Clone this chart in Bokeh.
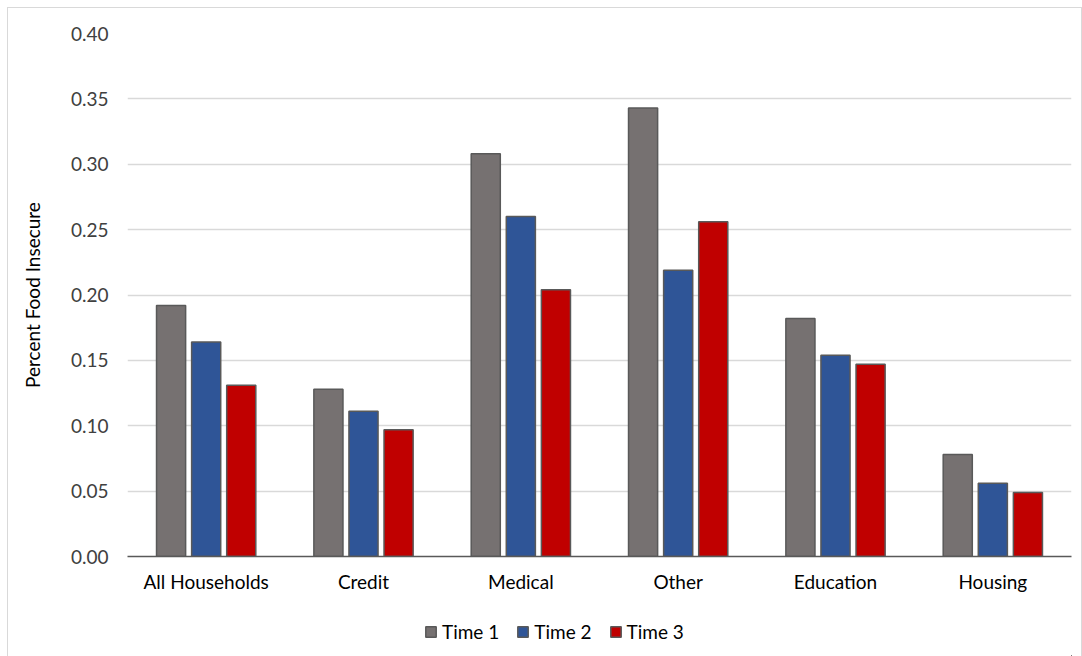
from bokeh.plotting import figure
from bokeh.layouts import column
from bokeh.models import ColumnDataSource, FactorRange, Legend, LegendItem, NumeralTickFormatter, FixedTicker
from bokeh.transform import dodge
from bokeh.embed import file_html
from bokeh.resources import INLINE

categories = ["All Households", "Credit", "Medical", "Other", "Education", "Housing"]
time1 = [0.192, 0.128, 0.308, 0.343, 0.182, 0.078]
time2 = [0.164, 0.111, 0.260, 0.219, 0.154, 0.056]
time3 = [0.131, 0.097, 0.204, 0.256, 0.147, 0.049]
series_names = ["Time 1", "Time 2", "Time 3"]
colors = ["#767171", "#2F5597", "#C00000"]
y_ticks = [0.0, 0.05, 0.10, 0.15, 0.20, 0.25, 0.30, 0.35, 0.40]

FONT = "Lato"
OUTLINE = "#595959"

src = ColumnDataSource(dict(cat=categories, t1=time1, t2=time2, t3=time3))

p = figure(width=1073, height=598, x_range=FactorRange(*categories, range_padding=0),
           y_range=(0, 0.40), output_backend="svg", toolbar_location=None,
           min_border_left=119, min_border_right=10, min_border_top=25, min_border_bottom=50)
p.x_range.factor_padding = 0

for key, off, col in zip(["t1", "t2", "t3"], [-0.223, 0.0, 0.223], colors):
    p.vbar(x=dodge("cat", off, range=p.x_range), top=key, width=0.185, source=src,
           fill_color=col, line_color=OUTLINE, line_width=1.5)

p.outline_line_color = None
p.background_fill_color = "white"
p.border_fill_color = "white"

p.xgrid.grid_line_color = None
p.ygrid.grid_line_color = "#D9D9D9"
p.ygrid.grid_line_width = 1.5
p.yaxis.ticker = FixedTicker(ticks=y_ticks)
p.yaxis.formatter = NumeralTickFormatter(format="0.00")
p.yaxis.axis_line_color = None
p.yaxis.major_tick_line_color = None
p.yaxis.minor_tick_line_color = None
p.yaxis.major_label_text_font = FONT
p.yaxis.major_label_text_font_size = "19px"
p.yaxis.major_label_text_color = "#404040"
p.yaxis.major_label_standoff = 13
p.yaxis.axis_label = "Percent Food Insecure"
p.yaxis.axis_label_text_font = FONT
p.yaxis.axis_label_text_font_size = "19px"
p.yaxis.axis_label_text_font_style = "normal"
p.yaxis.axis_label_text_color = "#000000"
p.yaxis.axis_label_standoff = 24

p.xaxis.axis_line_color = OUTLINE
p.xaxis.axis_line_width = 1.5
p.xaxis.major_tick_line_color = None
p.xaxis.minor_tick_line_color = None
p.xaxis.major_label_text_font = FONT
p.xaxis.major_label_text_font_size = "19px"
p.xaxis.major_label_text_color = "#000000"
p.xaxis.major_label_standoff = 7

# legend strip below the chart (its bars are shifted far outside the strip's visible area)
p2 = figure(width=1073, height=50, output_backend="svg", toolbar_location=None,
            min_border_left=119, min_border_right=10, min_border_top=0, min_border_bottom=0,
            x_range=FactorRange(*categories), y_range=(1000, 1001))
p2.axis.visible = False
p2.grid.visible = False
p2.outline_line_color = None
p2.background_fill_color = "white"
p2.border_fill_color = "white"
legend_renderers = [p2.vbar(x=dodge("cat", 100, range=p2.x_range), top=key, width=0.1, source=src,
                            fill_color=c, line_color=OUTLINE, line_width=1.5)
                    for key, c in zip(["t1", "t2", "t3"], colors)]
legend = Legend(items=[LegendItem(label=n, renderers=[r]) for n, r in zip(series_names, legend_renderers)],
                orientation="horizontal", location=(297, 13),
                glyph_width=13, glyph_height=13, spacing=17, label_standoff=5,
                label_text_font=FONT, label_text_font_size="19px", label_text_color="#000000",
                border_line_color=None, background_fill_alpha=0, padding=2, margin=0)
p2.add_layout(legend, "center")

layout = column(p, p2, spacing=0, margin=(7, 0, 0, 7),
                styles={"border-top": "1px solid #D9D9D9", "border-left": "1px solid #D9D9D9",
                        "border-right": "1px solid #D9D9D9"})

open("out.html", "w").write(file_html(layout, INLINE))
